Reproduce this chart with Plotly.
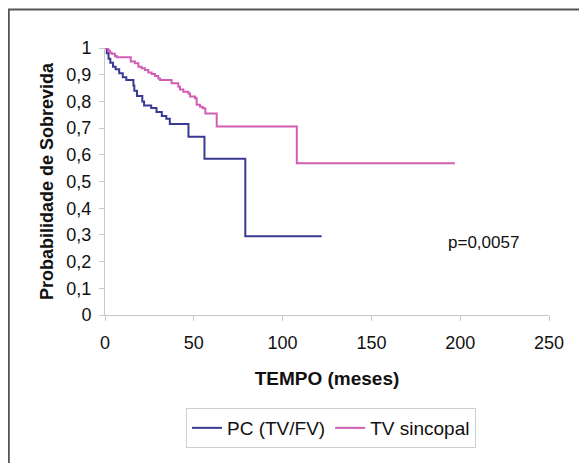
import plotly.graph_objects as go

# PC (TV/FV) Kaplan-Meier steps: time (months) of each drop, survival after it
pc_time = [0, 1, 2, 3, 4.5, 6, 8, 10, 12, 16, 16.5, 18, 21, 22, 26, 29, 32, 34.5, 36.5, 47, 56, 79, 122]
pc_surv = [1.0, 0.98, 0.96, 0.945, 0.93, 0.92, 0.905, 0.89, 0.88, 0.86, 0.84, 0.82, 0.80, 0.785, 0.775, 0.76, 0.745, 0.735, 0.715, 0.668, 0.585, 0.295, 0.295]

# TV sincopal
tv_time = [0, 1.9, 2.8, 3.8, 5.6, 6.6, 14.5, 16.9, 18.8, 20.6, 22.5, 24.4, 26.3, 28.2, 30, 31, 37.5, 41.3, 42.2, 44.1, 46.9, 47.9, 50.7, 51.6, 53.5, 55, 56.5, 62.9, 108, 197]
tv_surv = [1.0, 0.99, 0.982, 0.978, 0.97, 0.965, 0.949, 0.943, 0.93, 0.924, 0.918, 0.908, 0.903, 0.895, 0.886, 0.88, 0.868, 0.855, 0.845, 0.836, 0.83, 0.818, 0.812, 0.787, 0.78, 0.774, 0.755, 0.706, 0.568, 0.568]

y_ticks = [0, 0.1, 0.2, 0.3, 0.4, 0.5, 0.6, 0.7, 0.8, 0.9, 1]
y_tick_labels = ["0", "0,1", "0,2", "0,3", "0,4", "0,5", "0,6", "0,7", "0,8", "0,9", "1"]
x_ticks = [0, 50, 100, 150, 200, 250]
x_tick_labels = ["0", "50", "100", "150", "200", "250"]

series_names = ["PC (TV/FV)", "TV sincopal"]
colors = ["#3a3a94", "#d35db5"]
p_text = "p=0,0057"

FONT = "Liberation Sans, Arial, sans-serif"

# plot area in figure pixels (page has an 8px body margin)
L, R, T, B = 97, 38, 40, 148
W, H = 579, 455
PW, PH = W - L - R, H - T - B


def px_x(x):
    return (x - L) / PW


def px_y(y):
    return (H - B - y) / PH


fig = go.Figure()
fig.add_trace(go.Scatter(x=pc_time, y=pc_surv, mode="lines",
                         line=dict(shape="hv", color=colors[0], width=2), name=series_names[0]))
fig.add_trace(go.Scatter(x=tv_time, y=tv_surv, mode="lines",
                         line=dict(shape="hv", color=colors[1], width=2), name=series_names[1]))

fig.add_annotation(x=213, y=0.27, xref="x", yref="y", text=p_text, showarrow=False,
                   font=dict(family=FONT, size=17, color="#111"))

# outer frame
fig.add_shape(type="rect", xref="paper", yref="paper",
              x0=px_x(0.8), x1=px_x(640), y0=px_y(520), y1=px_y(1.5),
              line=dict(color="#555", width=2), layer="below")

fig.update_layout(
    width=W, height=H,
    margin=dict(l=L, r=R, t=T, b=B),
    paper_bgcolor="white", plot_bgcolor="white",
    font=dict(family=FONT, size=18, color="#111"),
    showlegend=True,
    legend=dict(orientation="h", x=px_x(323), xanchor="center", y=px_y(400), yanchor="top",
                bordercolor="#cfcfcf", borderwidth=1, font=dict(size=19)),
    xaxis=dict(range=[0, 250], tickvals=x_ticks, ticktext=x_tick_labels,
               showgrid=False, zeroline=False, showline=True, linecolor="#c8c8c8", linewidth=1,
               ticks="outside", ticklen=5, tickcolor="#c8c8c8", ticklabelstandoff=6,
               title=dict(text="<b>TEMPO (meses)</b>", font=dict(size=19), standoff=20)),
    yaxis=dict(range=[0, 1], tickvals=y_ticks, ticktext=y_tick_labels,
               showgrid=False, zeroline=False, showline=True, linecolor="#c8c8c8", linewidth=1,
               ticks="outside", ticklen=5, tickcolor="#c8c8c8", ticklabelstandoff=4,
               title=dict(text="<b>Probabilidade de Sobrevida</b>", font=dict(size=18), standoff=8)),
)

fig.write_html("out.html")
